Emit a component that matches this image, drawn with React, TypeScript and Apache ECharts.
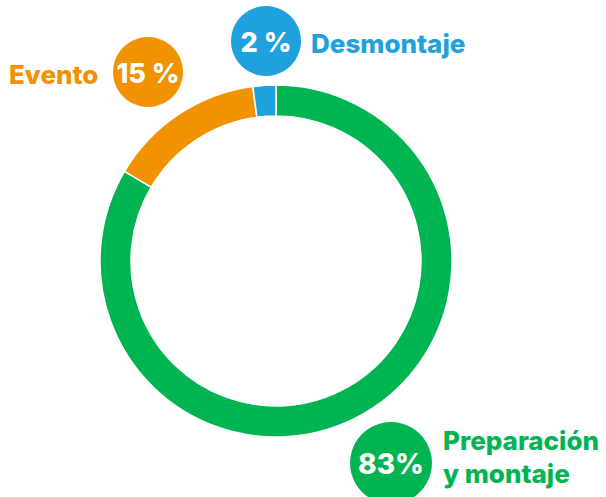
import React, { useEffect, useRef } from "react";
import * as echarts from "echarts";

const categories = ["Preparación y montaje", "Evento", "Desmontaje"];
const values = [83.5, 14.4, 2.1];
const percentLabels = ["83%", "15 %", "2 %"];
const nameLabels = ["Preparación\ny montaje", "Evento", "Desmontaje"];
const colors = ["#00b451", "#f39200", "#1ea1dd"];

const FONT = "Inter, 'Open Sans', sans-serif";

export default function App() {
  const ref = useRef<HTMLDivElement>(null);
  useEffect(() => {
    if (!ref.current) return;
    const chart = echarts.init(ref.current, undefined, { renderer: "svg" });
    const layout = [
      { cx: 391, cy: 463, r: 41, nx: 443, ny: 457, align: "left" },
      { cx: 148, cy: 72, r: 35, nx: 9, ny: 74, align: "left" },
      { cx: 266, cy: 41, r: 35, nx: 311, ny: 43, align: "left" },
    ];
    const graphics: any[] = [];
    categories.forEach((_, i) => {
      const l = layout[i];
      graphics.push({
        type: "circle",
        shape: { cx: l.cx, cy: l.cy, r: l.r },
        style: { fill: colors[i] },
        z: 10,
      });
      graphics.push({
        type: "text",
        x: l.cx,
        y: l.cy + 1,
        z: 11,
        style: {
          text: percentLabels[i],
          fill: "#ffffff",
          font: `800 ${i === 0 ? 28 : 27}px ${FONT}`,
          align: "center",
          verticalAlign: "middle",
        },
      });
      graphics.push({
        type: "text",
        x: l.nx,
        y: l.ny,
        z: 11,
        style: {
          text: nameLabels[i],
          fill: colors[i],
          font: `800 26px ${FONT}`,
          lineHeight: 33,
          align: l.align,
          verticalAlign: "middle",
        },
      });
    });
    chart.setOption({
      animation: false,
      series: [
        {
          type: "pie",
          center: [276, 261],
          radius: [145, 176],
          startAngle: 90,
          clockwise: true,
          silent: true,
          label: { show: false },
          labelLine: { show: false },
          itemStyle: { borderColor: "#ffffff", borderWidth: 1.5 },
          data: categories.map((c, i) => ({
            name: c,
            value: values[i],
            itemStyle: { color: colors[i] },
          })),
        },
      ],
      graphic: graphics,
    });
    return () => chart.dispose();
  }, []);
  return (
    <div
      ref={ref}
      style={{ width: 606, height: 497, position: "absolute", left: 0, top: 0 }}
    />
  );
}
